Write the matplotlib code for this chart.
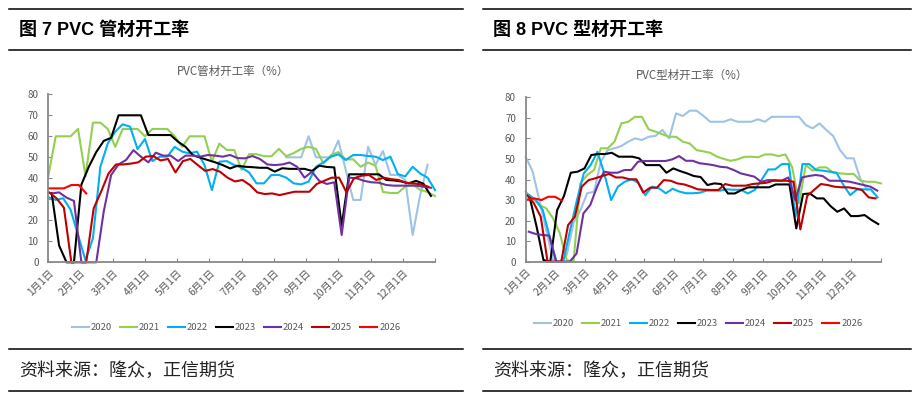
import matplotlib
matplotlib.use("Agg")
import matplotlib.pyplot as plt
from matplotlib.lines import Line2D
import numpy as np

plt.rcParams["font.family"] = ["Noto Sans CJK SC", "DejaVu Sans"]

nan = np.nan
years = ["2020", "2021", "2022", "2023", "2024", "2025", "2026"]
colors = ["#9DC3E6", "#92D050", "#00B0F0", "#000000", "#7030A0", "#C00000", "#FF0000"]
month_labels = ["1月1日", "2月1日", "3月1日", "4月1日", "5月1日", "6月1日",
                "7月1日", "8月1日", "9月1日", "10月1日", "11月1日", "12月1日"]

# PVC 管材开工率 (%), weekly, one list per year
pipe_2020 = [nan] * 32 + [50, 50, 50, 60, 50, 50, 50, 58, 44, 29.7,
                          29.7, 55, 46.3, 53, 41.6, 41.6, 39.2, 13, 32, 46.5]
pipe_2021 = [41, 60, 60, 60, 63.5, 41, 66.5, 66.5, 63.5, 55,
             63.5, 63.5, 63.5, 60, 63.5, 63.5, 63.5, 60, 55, 60,
             60, 60, 48, 56.5, 53.5, 53.5, 44, 51.5, 51.5, 50.5,
             50.5, 54, 50.5, 52, 54, 55, 54, 47, 51, 52.5,
             49, 49, 45.5, 47.5, 46, 33.5, 33, 33, 36, 37,
             34.5, 33.5, 31.5]
pipe_2022 = [31, 29.7, 30.5, 25, 13, 1, 11.4, 45.5, 56.6, 62.2,
             65.7, 64.6, 53.9, 58.7, 48.2, 50.3, 50.3, 55, 52.7, 51.9,
             52.7, 46.3, 34.4, 47.9, 48.2, 46.3, 45, 42.8, 37.6, 37.6,
             41.6, 41.6, 40.3, 37.6, 37.1, 38.4, 45.5, 47.6, 50.3, 51.4,
             48.7, 51.1, 51.1, 50.6, 50.3, 48.7, 50.3, 42, 40.9, 45.5,
             42.3, 40.3, 34.4]
pipe_2023 = [33, 8, 0, 0, 37, 45.5, 52.5, 57.8, 59.3, 70,
             70, 70, 70, 60.6, 60.6, 60.6, 60.6, 57.4, 55, 51,
             49.8, 48.7, 47.6, 46.3, 44.7, 46, 45.5, 45.3, 45, 45,
             43.2, 44.8, 44.5, 44.5, 44.5, 43.5, 46, 45.4, 45.2, 17.5,
             41.9, 41.9, 41.9, 41.9, 41.9, 39.2, 39, 38.5, 37.6, 38.8,
             37.4, 31.6]
pipe_2024 = [32.8, 33.3, 30.8, 29.2, 0, 0, 0, 24.1, 41.6, 46.6,
             48.7, 53.4, 50.3, 47.6, 52.2, 50.8, 50.8, 48.2, 50.8, 50.8,
             50.3, 51.1, 50.8, 50.3, 51.1, 49.6, 49.5, 50.6, 49.2, 46.6,
             46.3, 46.6, 47.5, 45.5, 40.3, 43.1, 38.7, 37.3, 38.1, 13,
             40.3, 40, 38.8, 38.1, 37.9, 36.8, 36.5, 36.5, 36.5, 36.5,
             36, 35.5]
pipe_2025 = [33.3, 30.5, 26, 0, 0, 0, 25.7, 33.6, 42.3, 46.6,
             46.6, 47, 47.6, 50.3, 50.6, 48.5, 49.2, 42.8, 48.2, 49.2,
             46.3, 43.5, 44.4, 43.1, 40.3, 38.5, 39.2, 36.8, 33.3, 32.5,
             32.8, 32, 32.8, 33.6, 33.6, 33.6, 37.3, 38.8, 40.3, 40.3,
             33.3, 40, 41.2, 41.6, 39.2, 40.3, 39.6, 39.2, 37.9, 37.6,
             37.1, 36]
pipe_2026 = [35.2, 35.2, 35.2, 36.8, 36.8, 32.8]
# week of the first report in each year
pipe_start = [0, 0, 0, 0.45, 0.45, 0.1, 0.1]

# PVC 型材开工率 (%)
prof_2020 = [51, 44, 30, 15.4, 0.8, 0, 3.3, 18.8, 25, 33.3,
             34, 48.7, 54.3, 55.2, 56.3, 58.4, 60, 59.2, 60.8, 61.2,
             64.1, 60, 72.2, 70.9, 73.5, 73.5, 71, 68.1, 68.1, 68.1,
             69.3, 68.1, 68.1, 68.1, 69.3, 68.1, 70.5, 70.5, 70.5, 70.5,
             70.5, 66.5, 64.9, 67.3, 64.1, 61.2, 54.3, 50.3, 50.3, 40,
             35]
prof_2021 = [34, 30.8, 27.6, 26, 21.1, 13.8, 0.8, 0, 38.1, 42.2,
             44.6, 55.2, 55.2, 58.4, 67.3, 68.1, 70.5, 70.5, 64.4, 63.3,
             62, 60.8, 60.8, 58.4, 57.5, 54.3, 53.7, 53, 51.1, 50,
             49.1, 49.8, 51, 51.1, 50.8, 52.2, 52.2, 51.4, 52.2, 46,
             28.4, 47, 44.3, 45.9, 45.9, 43.3, 43, 42.7, 42.7, 39.4,
             38.9, 38.9, 38.1]
prof_2022 = [32.4, 30, 25.1, 12.2, 0, 0, 15.4, 30, 43,
             47, 53.5, 43, 30, 36.5, 38.9, 40.1, 38.4, 32.4, 36.5,
             35.7, 33.3, 35.5, 34.1, 33.3, 33.3, 33.6, 34.6, 34.6, 34.6,
             35.2, 35, 35, 33.2, 34.9, 39.7, 44.9, 44.9, 47.5, 47.5,
             22, 47.5, 47.5, 44.6, 44.3, 43.8, 43.3, 37.3, 32.4, 35.2,
             35.2, 35.2, 31.3]
prof_2023 = [31, 17, 0.8, 0, 25.1, 32, 43.3, 43.8, 45.4, 51.9,
             52.4, 52.4, 53, 51.1, 51.1, 51.1, 50.3, 47, 47, 47,
             43.3, 45.4, 44.1, 43, 41.7, 41.2, 37.3, 38.1, 37.8, 33.2,
             33.2, 34.9, 36.2, 36.2, 36.2, 36.2, 37.6, 37.6, 37.6, 16.2,
             32.9, 33.2, 30.8, 30.8, 27.1, 24.3, 25.9, 22.2, 22.2, 22.7,
             20.3, 18.3]
prof_2024 = [14.6, 13.5, 13, 12.7, 0, 0, 0, 4, 23.5, 27.6,
             36.5, 43.8, 43.3, 43.3, 44.6, 44.6, 48.7, 49, 49, 49,
             49, 49.8, 51.4, 49.1, 49.1, 47.9, 47.5, 47, 46.2, 45.9,
             44.6, 43, 42.2, 41.4, 38.9, 39.7, 39.7, 39.4, 41, 30,
             41, 41.7, 42.2, 41.7, 39.4, 39.4, 39.3, 38.9, 38.1, 37.3,
             36.5, 34.6]
prof_2025 = [32.4, 28.4, 21.9, 0, 0, 0, 17.8, 21.9, 36.5, 39.7,
             40.6, 41.7, 42.7, 41, 41, 40.1, 40.1, 33.6, 36, 36,
             39.7, 39.4, 38.1, 37.6, 36.5, 35.2, 35, 34.9, 34.9, 37.8,
             37, 37, 37, 37.8, 38.1, 38.4, 39.4, 39.4, 39.4, 38.9,
             15.7, 32, 34.9, 37.8, 37.3, 36.5, 36.2, 36.2, 35.7, 34.9,
             31.3, 30.8]
prof_2026 = [30.3, 30.8, 30, 31.6, 31.6, 29.7]
prof_start = [0, 0, 0.5, 0.6, 0.45, 0.2, 0.3]

pipe = [pipe_2020, pipe_2021, pipe_2022, pipe_2023, pipe_2024, pipe_2025, pipe_2026]
prof = [prof_2020, prof_2021, prof_2022, prof_2023, prof_2024, prof_2025, prof_2026]

W, H = 923, 398
fig = plt.figure(figsize=(W / 100, H / 100), dpi=100)
fig.patch.set_facecolor("white")

axis_grey = "#898989"
text_grey = "#595959"


def fx(px):
    return px / W


def fy(py):
    return 1 - py / H


def draw_panel(rect, series, starts, chart_title, title_xy):
    ax = fig.add_axes(rect)
    for vals, s, c, yr in zip(series, starts, colors, years):
        x = s + np.arange(len(vals))
        ax.plot(x, vals, color=c, lw=1.5, label=yr, clip_on=False)
    ax.set_xlim(0, 52)
    ax.set_ylim(0, 80)
    ticks = np.arange(13) * 52 / 12
    ax.set_xticks(ticks)
    ax.set_xticklabels(month_labels + [""], rotation=45, ha="right",
                       rotation_mode="anchor", fontsize=7.5, color=text_grey)
    ax.set_yticks(np.arange(0, 81, 10))
    ax.tick_params(axis="y", labelsize=7, colors=text_grey, direction="in",
                   length=3, color=axis_grey, pad=7)
    ax.tick_params(axis="x", direction="in", length=3, color=axis_grey, pad=4)
    for sp in ["top", "right"]:
        ax.spines[sp].set_visible(False)
    for sp in ["left", "bottom"]:
        ax.spines[sp].set_color(axis_grey)
        ax.spines[sp].set_linewidth(1.3)
    ax.set_facecolor("none")
    fig.text(title_xy[0], title_xy[1], chart_title, ha="center", va="center",
             fontsize=8.3, color=text_grey)
    return ax


ax1 = draw_panel([fx(48.3), fy(262.3), fx(435) - fx(48.3), fy(94.3) - fy(262.3)],
                 pipe, pipe_start, "PVC管材开工率（%）", (fx(233.5), fy(71)))
ax2 = draw_panel([fx(525.7), fy(261.7), fx(881) - fx(525.7), fy(97.3) - fy(261.7)],
                 prof, prof_start, "PVC型材开工率（%）", (fx(692.5), fy(75)))

for ax, cx, cy in [(ax1, 236, 327.7), (ax2, 698, 324)]:
    leg = ax.legend(loc="center", bbox_to_anchor=(fx(cx), fy(cy)),
                    bbox_transform=fig.transFigure, ncol=7, frameon=False,
                    fontsize=6.8, handlelength=1.8, handletextpad=0.2,
                    columnspacing=0.85)
    for t in leg.get_texts():
        t.set_color(text_grey)

# header / footer rules and captions
for x0, x1, tx, title in [(9, 463, 19.3, "图 7 PVC 管材开工率"),
                          (483, 911, 493.3, "图 8 PVC 型材开工率")]:
    for py in [9.3, 50, 349.3, 391]:
        fig.add_artist(Line2D([fx(x0), fx(x1)], [fy(py), fy(py)],
                              color="black", lw=1.1))
    fig.text(fx(tx), fy(30), title, ha="left", va="center",
             fontsize=13, fontweight="bold", color="black",
             family=["Liberation Sans", "Noto Sans CJK SC"])
    fig.text(fx(tx), fy(371), "资料来源：隆众，正信期货", ha="left",
             va="center", fontsize=13, color="#222222")

fig.savefig("out.png", dpi=100)
